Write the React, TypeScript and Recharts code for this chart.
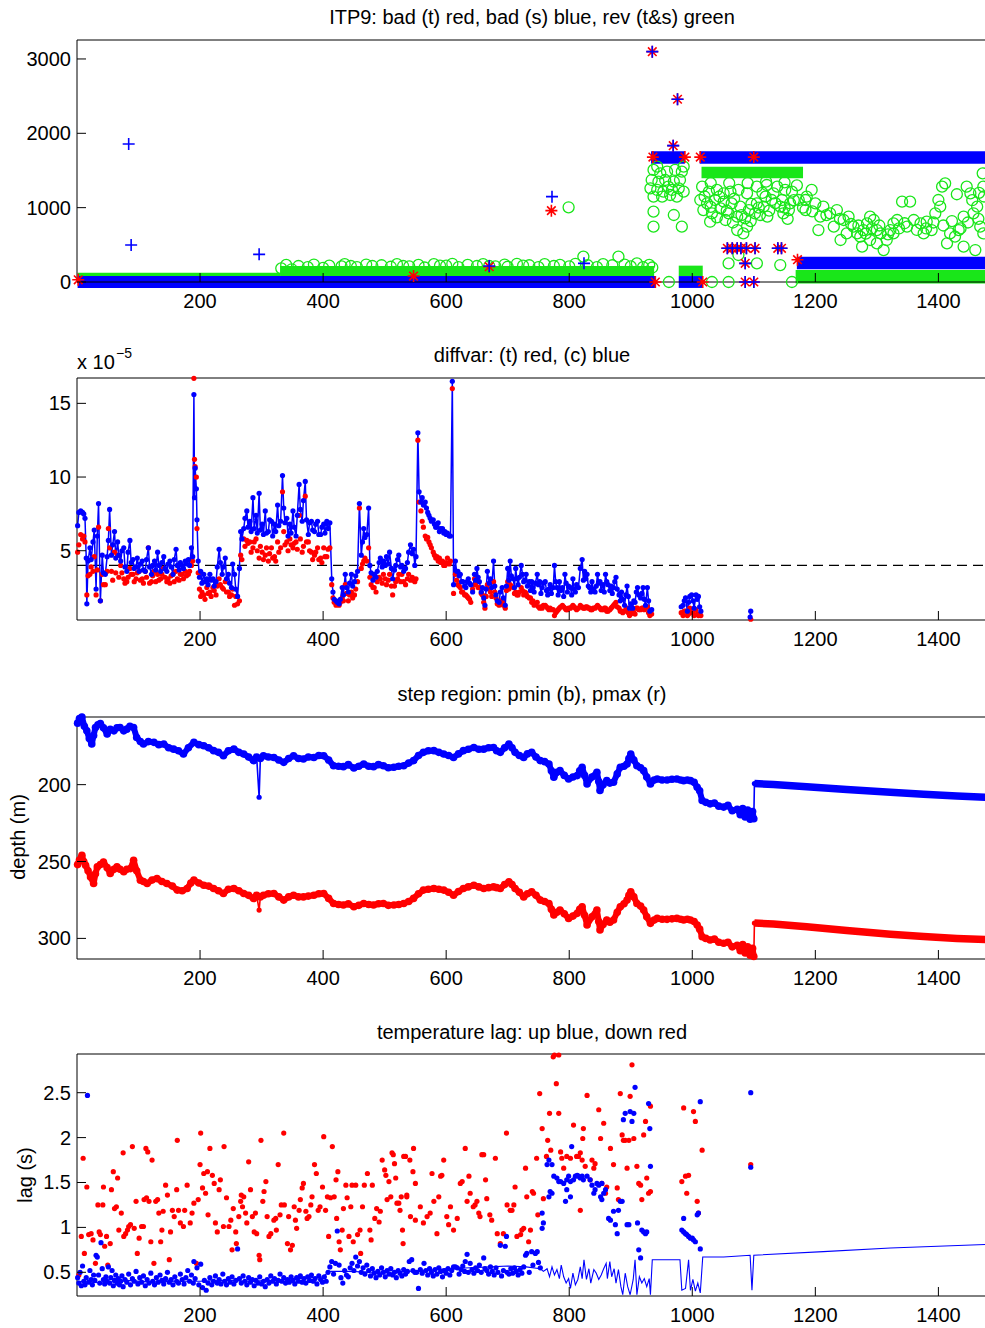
import React from 'react';
import { ComposedChart, Scatter, Line, XAxis, YAxis, ReferenceArea, ReferenceLine } from 'recharts';

type Pt = [number, number | null];

const FONT = '"Liberation Sans", Arial, Helvetica, sans-serif';
const BLUE = '#0000ff';
const RED = '#ff0000';
const GREEN = '#19e619';
const X_DOMAIN: [number, number] = [0, 1479];
const profileTicks = [200, 400, 600, 800, 1000, 1200, 1400];

// ---------- panel 1: bad / reversed flags (y = point index) ----------
// dense rows of markers, read as [x1, x2, y1, y2]
const badSBands = [
  [1, 940, -80, 80],
  [978, 1017, -80, 80],
  [933, 988, 1590, 1760],
  [1012, 1479, 1590, 1760],
  [1170, 1479, 170, 340],
];
const revBands = [
  [1, 330, 80, 125],
  [330, 938, 80, 215],
  [978, 1017, 80, 220],
  [1015, 1180, 1395, 1550],
  [1168, 1479, -20, 160],
];
const badSPts: Pt[] = [
  [84, 1857], [88, 498], [296, 372], [670, 215], [772, 1148], [824, 251], [935, 3098], [976, 2458],
  [969, 1834], [1057, 453], [1065, 453], [1073, 453], [1079, 453], [1088, 453], [1102, 453],
  [1139, 453], [1145, 453], [1086, 251], [1086, 0], [1100, 0],
];
const badTPts: Pt[] = [
  [2, 30], [547, 80], [670, 206], [771, 960], [935, 3098], [976, 2458], [969, 1834], [936, 1680],
  [988, 1680], [1013, 1680], [1100, 1680], [1057, 453], [1065, 453], [1073, 453], [1079, 453],
  [1088, 453], [1102, 453], [1139, 453], [1145, 453], [1086, 251], [1086, 0], [1100, 0], [940, 0],
  [1017, 0], [1171, 300],
];
const revPts: Pt[] = [
  [332, 184], [349, 171], [375, 200], [400, 190], [430, 210], [455, 200], [480, 215], [510, 205],
  [540, 210], [565, 195], [590, 220], [620, 200], [650, 215], [680, 210], [700, 205], [725, 220],
  [750, 200], [775, 215], [799, 1005], [800, 210], [823, 341], [845, 200], [870, 225], [880, 341],
  [900, 210], [920, 200], [935, 195],
  [340, 230], [360, 215], [385, 235], [410, 220], [435, 240], [445, 215], [470, 235], [495, 225],
  [520, 240], [530, 215], [555, 230], [580, 240], [600, 220], [610, 245], [635, 230], [660, 240],
  [670, 215], [695, 235], [715, 245], [735, 225], [760, 240], [785, 230], [810, 245], [830, 225],
  [855, 240], [890, 235], [910, 250], [930, 230],
  [937, 1507], [948, 1462], [959, 1484], [972, 1507], [983, 1484], [934, 1372], [945, 1350], [956, 1372],
  [970, 1350], [980, 1372], [932, 1260], [943, 1238], [953, 1215], [967, 1238], [978, 1260], [937, 1148],
  [951, 1148], [964, 1170], [975, 1148], [986, 1215], [937, 946], [937, 744], [970, 901], [983, 744],
  [961, 1282], [943, 1552], [986, 1552],
  [1016, 1282], [1027, 1215], [1040, 1238], [1051, 1193], [1062, 1215], [1075, 1238], [1089, 1193],
  [1105, 1282], [1121, 1305], [1138, 1282], [1151, 1238], [1162, 1215], [1013, 1103], [1024, 1058],
  [1037, 1103], [1051, 1081], [1064, 1058], [1078, 1013], [1092, 968], [1105, 1058], [1119, 1148],
  [1132, 1193], [1146, 1103], [1159, 1058], [1018, 968], [1032, 924], [1046, 991], [1059, 924],
  [1073, 879], [1086, 856], [1102, 924], [1116, 1013], [1129, 1103], [1143, 1013], [1157, 968],
  [1029, 811], [1054, 834], [1073, 699], [1083, 654], [1089, 744], [1110, 901], [1148, 924],
  [1184, 1103], [1194, 1238], [1059, 251], [1075, 363], [1105, 251], [1143, 228], [962, 0], [1032, 0],
  [1059, 0], [1162, 0],
  [1020, 1150], [1030, 1010], [1044, 1150], [1056, 960], [1068, 1120], [1080, 900], [1096, 1050],
  [1108, 1000], [1114, 1200], [1125, 960], [1135, 1060], [1150, 1000], [1165, 1100], [1170, 1300],
  [1040, 870], [1066, 800], [1095, 820], [1122, 880], [1155, 850], [1030, 1330], [1060, 1330],
  [1090, 1330], [1120, 1350], [1150, 1340],
  [1173, 1103], [1186, 1148], [1200, 1058], [1213, 1013], [1224, 924], [1235, 968], [1246, 834],
  [1254, 879], [1262, 744], [1268, 654], [1273, 610], [1278, 699], [1284, 789], [1289, 879], [1295, 834],
  [1300, 699], [1306, 654], [1311, 430], [1316, 565], [1322, 699], [1327, 789], [1333, 834], [1341, 1081],
  [1354, 1081], [1349, 744], [1360, 834], [1371, 789], [1381, 811], [1389, 699], [1395, 924], [1400, 1103],
  [1406, 1282], [1411, 1327], [1403, 1013], [1419, 654], [1427, 610], [1433, 699], [1441, 879],
  [1446, 1282], [1452, 1193], [1457, 924], [1463, 1013], [1468, 744], [1473, 654], [1472, 1462],
  [1473, 1282], [1184, 968], [1208, 879], [1230, 744], [1251, 654], [1276, 475], [1300, 520], [1327, 654],
  [1376, 654], [1414, 520], [1441, 475], [1460, 430], [1205, 699], [1241, 565], [1289, 565],
  [1180, 1000], [1195, 950], [1218, 900], [1240, 850], [1258, 780], [1270, 760], [1282, 650], [1292, 720],
  [1304, 760], [1318, 640], [1336, 720], [1345, 790], [1365, 700], [1380, 720], [1392, 800], [1408, 760],
  [1422, 820], [1436, 720], [1448, 800], [1465, 850], [1474, 1150], [1466, 1200], [1430, 1180], [1455, 1100],
];

// ---------- panel 2: diffvar, in units of 1e-5 ----------
const diffvarC: Pt[] = [
  [1, 6.7], [3, 7.6], [6, 7.7], [9, 7.6], [11, 7.5], [13, 7.2], [15, 4.5], [16, 1.4], [18, 4.3], [21, 5.2],
  [23, 4.4], [26, 5.6], [28, 6.4], [31, 2.4], [33, 6.0], [35, 8.2], [38, 1.6], [41, 4.7], [43, 3.5], [46, 3.4],
  [49, 4.6], [51, 5.7], [53, 7.8], [56, 4.7], [58, 5.4], [61, 6.3], [63, 4.5], [66, 5.6], [68, 4.7], [71, 4.3],
  [73, 5.0], [76, 5.2], [78, 3.9], [81, 3.6], [83, 4.9], [86, 5.7], [88, 4.2], [91, 4.4], [93, 3.8], [96, 3.9],
  [98, 4.5], [101, 3.6], [103, 4.1], [106, 4.3], [108, 3.7], [111, 3.6], [113, 4.4], [116, 5.2], [118, 3.9],
  [121, 3.4], [123, 4.0], [126, 4.3], [128, 3.7], [131, 4.9], [133, 4.0], [136, 3.6], [138, 4.2], [141, 4.6],
  [143, 3.8], [146, 3.6], [148, 4.1], [151, 4.3], [153, 3.9], [156, 3.4], [158, 4.4], [161, 5.1], [163, 4.0],
  [166, 3.7], [168, 4.2], [171, 4.0], [173, 3.8], [176, 4.3], [178, 4.1], [181, 4.4], [183, 4.0], [186, 5.2],
  [188, 4.6], [190, 15.6], [191, 8.6], [192, 10.6], [194, 9.2], [195, 7.1], [197, 4.3], [199, 3.2], [201, 3.6],
  [203, 2.8], [206, 3.4], [208, 2.9], [211, 3.1], [213, 2.7], [216, 3.4], [218, 3.0], [221, 3.1], [223, 2.6],
  [226, 2.9], [228, 3.9], [231, 5.1], [233, 4.2], [236, 3.4], [238, 3.9], [241, 4.5], [243, 3.1], [246, 3.4],
  [248, 2.8], [251, 2.5], [253, 4.1], [256, 3.4], [258, 2.4], [261, 1.9], [264, 3.8], [266, 6.3], [268, 5.8],
  [271, 6.5], [273, 7.2], [276, 7.7], [278, 6.6], [281, 7.0], [283, 6.3], [286, 8.6], [288, 6.5], [291, 7.4],
  [293, 6.2], [296, 8.9], [298, 6.4], [301, 6.8], [303, 6.1], [306, 7.7], [308, 6.2], [311, 6.3], [313, 7.1],
  [316, 7.0], [318, 6.0], [321, 6.8], [323, 6.3], [326, 8.1], [328, 6.7], [331, 7.0], [334, 10.1], [336, 7.9],
  [338, 6.9], [341, 7.2], [343, 6.0], [346, 6.8], [348, 6.2], [351, 7.7], [353, 6.6], [356, 6.0], [358, 7.4],
  [361, 9.5], [363, 7.8], [366, 7.0], [368, 8.4], [371, 9.7], [373, 7.1], [376, 6.1], [378, 6.9], [381, 7.0],
  [383, 6.4], [386, 6.3], [388, 6.8], [391, 7.0], [393, 6.1], [396, 6.1], [398, 6.6], [401, 6.8], [403, 6.2],
  [406, 7.0], [408, 6.5], [411, 6.9], [414, 3.1], [416, 2.2], [418, 1.7], [421, 1.6], [423, 1.5], [426, 1.4],
  [428, 1.7], [431, 2.5], [433, 2.0], [436, 3.4], [438, 2.5], [441, 2.2], [443, 2.8], [446, 3.4], [448, 2.6],
  [451, 2.9], [453, 3.3], [456, 3.6], [459, 8.2], [462, 4.7], [464, 5.6], [466, 6.5], [468, 5.9], [471, 6.1],
  [474, 7.9], [476, 4.0], [478, 3.5], [481, 3.0], [483, 3.4], [486, 3.2], [488, 3.6], [491, 4.2], [493, 4.5],
  [496, 3.9], [498, 4.3], [501, 4.0], [503, 4.6], [506, 4.1], [508, 4.9], [511, 3.8], [513, 3.1], [516, 3.7],
  [518, 4.0], [521, 4.4], [523, 4.7], [526, 3.9], [528, 4.0], [531, 3.6], [534, 3.8], [537, 4.2], [539, 4.9],
  [542, 5.4], [545, 4.8], [547, 5.1], [549, 4.0], [551, 4.6], [554, 13.0], [556, 9.0], [559, 8.3], [561, 8.6],
  [563, 8.1], [566, 8.3], [568, 7.9], [570, 7.6], [572, 7.4], [574, 7.2], [576, 7.0], [579, 7.1], [581, 6.8],
  [583, 6.6], [585, 6.6], [587, 6.9], [589, 6.3], [591, 6.5], [594, 6.5], [596, 6.2], [598, 6.3], [600, 6.1],
  [602, 6.2], [605, 6.0], [607, 6.0], [610, 16.5], [612, 2.7], [615, 4.3], [617, 3.6], [619, 3.6], [621, 3.3],
  [623, 3.4], [625, 2.9], [627, 2.9], [630, 2.6], [632, 2.5], [634, 2.9], [636, 3.1], [638, 2.8], [640, 2.7],
  [643, 2.2], [646, 3.4], [648, 3.0], [650, 3.8], [652, 3.2], [654, 2.9], [657, 2.2], [659, 2.5], [661, 1.8],
  [663, 1.3], [665, 2.4], [667, 3.6], [670, 2.8], [672, 3.1], [674, 2.5], [677, 4.3], [679, 2.6], [681, 2.0],
  [683, 1.6], [686, 1.5], [688, 2.2], [691, 2.5], [693, 1.8], [696, 1.3], [698, 2.6], [700, 3.8], [702, 3.0],
  [704, 4.3], [706, 3.3], [709, 3.1], [711, 2.5], [713, 3.8], [715, 3.1], [717, 2.7], [719, 3.2], [722, 4.0],
  [724, 3.4], [726, 2.9], [728, 3.0], [730, 3.4], [732, 2.6], [735, 2.9], [737, 2.3], [739, 2.9], [741, 2.5],
  [743, 2.2], [745, 2.8], [748, 3.4], [750, 2.7], [752, 2.9], [754, 2.1], [756, 2.5], [758, 2.8], [761, 2.9],
  [763, 2.3], [765, 2.0], [767, 2.4], [769, 2.7], [771, 2.1], [774, 2.5], [776, 4.0], [778, 2.9], [780, 2.5],
  [782, 2.0], [784, 2.9], [786, 2.3], [789, 2.5], [791, 1.9], [793, 3.4], [795, 2.8], [797, 2.2], [799, 2.6],
  [802, 2.5], [804, 2.0], [806, 3.1], [808, 2.4], [810, 2.2], [812, 2.7], [815, 2.5], [818, 3.8], [821, 4.4],
  [823, 3.0], [825, 3.6], [827, 3.1], [829, 3.4], [831, 2.6], [833, 2.5], [835, 2.2], [837, 2.9], [839, 2.4],
  [842, 2.2], [844, 2.6], [846, 3.4], [848, 2.8], [850, 2.9], [852, 2.3], [855, 2.7], [857, 2.2], [859, 3.4],
  [861, 2.9], [863, 2.7], [866, 2.3], [868, 2.6], [870, 2.1], [872, 2.5], [874, 2.9], [876, 3.2], [878, 2.4],
  [881, 2.0], [883, 1.6], [885, 2.2], [887, 1.7], [890, 1.3], [892, 2.0], [894, 2.6], [896, 1.9], [898, 1.1],
  [900, 1.4], [903, 1.1], [905, 1.6], [907, 1.5], [909, 2.2], [911, 2.5], [913, 2.0], [916, 1.8], [918, 2.1],
  [920, 2.5], [922, 1.7], [924, 1.3], [927, 2.5], [929, 1.6], [931, 0.9], [934, 1.0], [958, null],
  [982, 1.2], [985, 1.3], [987, 1.6], [989, 1.8], [992, 0.9], [994, 1.5], [996, 1.9], [999, 2.0], [1001, 1.6],
  [1003, 1.1], [1006, 2.0], [1008, 1.7], [1010, 1.9], [1012, 1.2], [1014, 0.9], [1050, null],
  [1094, 0.5], [1095, 0.9],
];
const diffvarT: Pt[] = [
  [1, 4.9], [3, 5.4], [6, 6.1], [9, 5.8], [11, 6.0], [13, 5.6], [16, 2.0], [18, 3.3], [21, 3.4], [23, 3.9],
  [26, 3.6], [28, 4.6], [31, 2.0], [33, 3.7], [35, 6.6], [38, 1.6], [41, 3.4], [43, 2.7], [46, 2.7], [49, 3.6],
  [51, 6.5], [53, 5.2], [56, 3.6], [58, 3.0], [61, 4.9], [63, 3.5], [66, 4.7], [68, 3.2], [71, 4.0], [73, 3.5],
  [76, 3.1], [78, 2.8], [81, 2.9], [83, 3.2], [86, 3.8], [88, 3.4], [91, 3.4], [93, 2.9], [96, 3.1], [98, 3.5],
  [101, 3.6], [103, 3.0], [106, 3.1], [108, 2.8], [111, 3.6], [113, 3.2], [116, 5.2], [118, 2.8], [121, 2.9],
  [123, 3.3], [126, 3.6], [128, 2.9], [131, 3.4], [133, 3.0], [136, 3.1], [138, 3.4], [141, 3.8], [143, 3.2],
  [146, 2.9], [148, 3.1], [151, 2.8], [153, 3.3], [156, 3.4], [158, 2.9], [161, 3.6], [163, 3.1], [166, 3.0],
  [168, 3.4], [171, 3.4], [173, 3.1], [176, 3.6], [178, 3.3], [181, 3.4], [183, 3.6], [186, 4.0], [188, 4.3],
  [190, 16.7], [191, 11.2], [192, 10.7], [194, 10.0], [195, 6.5], [197, 3.5], [199, 2.4], [201, 1.9], [203, 2.2],
  [206, 2.0], [208, 1.7], [211, 2.5], [213, 2.1], [216, 2.2], [218, 1.9], [221, 2.5], [223, 2.3], [226, 2.0],
  [228, 2.6], [231, 3.1], [233, 2.7], [236, 2.5], [238, 2.4], [241, 2.9], [243, 2.2], [246, 2.2], [248, 1.9],
  [251, 2.0], [253, 2.4], [256, 1.3], [258, 1.9], [261, 1.4], [264, 1.6], [266, 4.7], [268, 4.4], [271, 5.8],
  [273, 5.3], [276, 5.7], [278, 5.5], [281, 5.6], [283, 4.9], [286, 5.2], [288, 5.6], [291, 5.8], [293, 5.0],
  [296, 4.5], [298, 5.3], [301, 4.9], [303, 4.4], [306, 4.7], [308, 5.2], [311, 4.3], [313, 4.8], [316, 5.2],
  [318, 4.5], [321, 4.6], [323, 4.3], [326, 5.6], [328, 4.9], [331, 5.2], [334, 9.0], [336, 6.3], [338, 5.4],
  [341, 5.6], [343, 5.0], [346, 5.8], [348, 5.4], [351, 5.2], [353, 5.5], [356, 5.6], [358, 5.1], [361, 7.4],
  [363, 5.8], [366, 4.9], [368, 5.3], [371, 8.7], [373, 5.6], [376, 5.6], [378, 5.0], [381, 4.9], [383, 4.4],
  [386, 4.7], [388, 4.9], [391, 5.2], [393, 4.4], [396, 4.5], [398, 4.2], [401, 5.2], [403, 4.6], [406, 4.6],
  [408, 5.1], [411, 5.2], [414, 2.7], [416, 1.8], [418, 1.5], [421, 1.3], [423, 1.4], [426, 1.3], [428, 1.5],
  [431, 1.8], [433, 1.6], [436, 2.7], [438, 2.1], [441, 1.6], [443, 2.0], [446, 2.2], [448, 1.8], [451, 2.0],
  [453, 2.4], [456, 2.9], [459, 7.9], [462, 3.8], [464, 4.1], [466, 4.3], [468, 4.5], [471, 4.3], [474, 5.2],
  [476, 3.2], [478, 2.7], [481, 2.5], [483, 2.5], [486, 2.2], [488, 2.9], [491, 3.2], [493, 3.1], [496, 2.8],
  [498, 3.4], [501, 3.1], [503, 2.7], [506, 3.0], [508, 3.4], [511, 2.6], [513, 2.0], [516, 2.6], [518, 2.9],
  [521, 3.1], [523, 3.4], [526, 2.9], [528, 3.4], [531, 2.9], [534, 2.7], [537, 3.1], [539, 3.4], [542, 3.0],
  [545, 3.2], [547, 3.0], [549, 2.9], [551, 3.1], [554, 12.5], [556, 8.3], [559, 7.7], [561, 7.0], [563, 6.6],
  [566, 6.0], [568, 5.8], [570, 5.9], [572, 5.6], [574, 5.4], [576, 5.2], [579, 4.9], [581, 4.7], [583, 4.5],
  [585, 4.6], [587, 4.3], [589, 4.5], [591, 4.2], [594, 4.3], [596, 4.0], [598, 4.0], [600, 4.2], [602, 4.5],
  [605, 4.1], [607, 4.3], [610, 16.0], [612, 2.1], [615, 3.4], [617, 3.0], [619, 2.7], [621, 2.6], [623, 2.5],
  [625, 2.2], [627, 2.2], [630, 2.0], [632, 2.0], [634, 1.9], [636, 1.8], [638, 1.7], [640, 1.5], [643, 2.4],
  [646, 3.1], [648, 2.7], [650, 2.9], [652, 2.5], [654, 2.5], [657, 2.1], [659, 2.0], [661, 1.5], [663, 1.1],
  [665, 1.9], [667, 2.7], [670, 2.4], [672, 2.2], [674, 1.9], [677, 2.9], [679, 2.2], [681, 1.8], [683, 1.4],
  [686, 1.3], [688, 1.6], [691, 1.5], [693, 1.3], [696, 1.1], [698, 2.3], [700, 2.9], [702, 2.4], [704, 2.7],
  [706, 2.6], [709, 2.5], [711, 2.1], [713, 2.2], [715, 2.0], [717, 2.0], [719, 2.2], [722, 2.5], [724, 2.3],
  [726, 2.0], [728, 2.2], [730, 2.1], [732, 1.9], [735, 1.8], [737, 1.8], [739, 1.5], [741, 1.6], [743, 1.3],
  [745, 1.4], [748, 1.5], [750, 1.2], [752, 1.1], [754, 1.2], [756, 1.1], [758, 1.3], [761, 1.3], [763, 1.2],
  [765, 1.1], [767, 1.0], [769, 1.1], [771, 1.0], [774, 1.0], [776, 0.6], [778, 0.8], [780, 0.9], [782, 1.0],
  [784, 1.1], [786, 1.2], [789, 1.3], [791, 1.2], [793, 1.1], [795, 1.0], [797, 1.0], [799, 1.1], [802, 1.1],
  [804, 1.2], [806, 1.3], [808, 1.2], [810, 1.1], [812, 1.0], [815, 1.1], [818, 1.3], [821, 1.2], [823, 1.1],
  [825, 1.1], [827, 1.2], [829, 1.2], [831, 1.1], [833, 1.1], [835, 1.0], [837, 1.0], [839, 1.1], [842, 1.1],
  [844, 1.2], [846, 1.3], [848, 1.2], [850, 1.1], [852, 1.0], [855, 1.0], [857, 1.1], [859, 1.1], [861, 0.9],
  [863, 0.9], [866, 1.0], [868, 1.1], [870, 1.2], [872, 1.3], [874, 1.4], [876, 1.5], [878, 1.2], [881, 1.1],
  [883, 0.9], [885, 0.9], [887, 0.8], [890, 0.9], [892, 1.0], [894, 1.1], [896, 0.8], [898, 0.6], [900, 0.7],
  [903, 0.9], [905, 0.8], [907, 0.7], [909, 1.1], [911, 1.1], [913, 1.0], [916, 1.0], [918, 1.1], [920, 1.1],
  [922, 1.0], [924, 1.1], [927, 1.2], [929, 0.8], [931, 0.6], [934, 0.7], [982, 0.8], [985, 0.6], [987, 0.9],
  [989, 0.9], [992, 0.6], [994, 0.7], [996, 1.1], [999, 0.9], [1001, 0.8], [1003, 0.6], [1006, 1.0], [1008, 0.7],
  [1010, 0.6], [1012, 0.7], [1014, 0.6], [1095, 0.35],
];

// ---------- panel 3: step region depth (m) ----------
const pminPts: Pt[] = [
  [1, 160], [4, 157], [8, 156], [12, 162], [16, 165], [20, 170], [24, 173.6], [27, 168], [30, 162.8], [34, 161],
  [38, 160.2], [43, 163], [49, 167.1], [54, 164], [60, 165], [65, 163], [70, 162.8], [76, 165], [81, 163.9],
  [86, 162], [92, 162.8], [97, 169.3], [103, 172], [108, 173.6], [116, 172], [125, 172.5], [133, 174],
  [141, 173.6], [149, 176], [157, 176.9], [165, 178], [173, 180.1], [181, 176], [190, 172.5], [198, 174],
  [206, 174.7], [214, 176], [222, 177.9], [230, 179], [238, 181.2], [246, 178], [255, 176.9], [263, 179],
  [271, 180.1], [279, 182], [287, 184.4], [292, 182], [298, 183], [303, 181.2], [311, 182],
  [320, 182.3], [328, 184], [336, 185.5], [344, 183], [352, 181.2], [360, 183], [368, 183.3], [376, 182],
  [385, 182.3], [393, 181], [401, 181.2], [409, 184], [417, 187.7], [425, 188], [433, 188.3], [441, 187],
  [450, 189.2], [458, 188], [466, 186.6], [474, 188], [482, 188.3], [490, 187], [498, 187.7], [506, 189],
  [515, 188.7], [523, 188], [531, 187.7], [539, 186], [547, 184.4], [555, 181], [563, 179], [571, 178],
  [580, 177.9], [588, 179], [596, 180.1], [604, 181], [612, 182.3], [620, 180], [628, 177.9], [636, 177],
  [645, 175.8], [653, 177], [661, 176.9], [669, 176], [677, 175.8], [682, 178], [688, 179], [695, 176],
  [702, 173.6], [707, 176], [712, 179], [719, 181], [726, 182.3], [732, 180], [739, 179], [746, 182],
  [753, 184.4], [760, 185], [767, 186.6], [771, 191], [775, 195.2], [780, 192], [785, 190.9], [792, 194],
  [799, 196.3], [806, 195], [813, 194.1], [817, 191], [821, 188.7], [825, 194], [829, 199.5], [837, 195],
  [845, 192], [848, 198], [850, 203.8], [855, 200], [861, 197.4], [866, 199], [872, 198.4], [878, 193],
  [883, 188.7], [889, 188], [894, 186.6], [897, 183], [900, 180.1], [905, 184], [910, 187.7], [916, 189],
  [921, 190.9], [926, 195], [932, 199.5], [938, 197], [943, 196.3], [951, 197], [959, 197], [967, 196.5],
  [975, 196.3], [981, 197], [986, 197.4], [992, 197], [997, 197.4], [1003, 198.5], [1008, 201.7], [1012, 204],
  [1016, 210.3], [1022, 211.5], [1029, 212.5], [1036, 212], [1043, 214], [1051, 214.6], [1058, 213.5],
  [1065, 217], [1073, 216], [1078, 219.5], [1082, 215.5], [1086, 221], [1090, 216.5], [1094, 222.5],
  [1098, 217.5], [1100, 222.2],
];
const pminThin: Pt[] = [[292, 182], [296, 208.2], [298, 183], [299, null], [1100, 222.2], [1101, 199.3]];
const pminTail: Pt[] = [
  [1101, 199.3], [1132, 199.9], [1186, 201.4], [1251, 203.1], [1322, 205], [1376, 206.3], [1430, 207.4], [1479, 208.3],
];
const pmaxPts: Pt[] = [
  [1, 252], [4, 249], [8, 246], [11, 250], [14, 252.4], [18, 256], [22, 260], [27, 264.3], [30, 258],
  [33, 253.5], [38, 252], [43, 250.3], [49, 254], [54, 257.8], [60, 255], [65, 253.5], [70, 255], [76, 256.7],
  [81, 255], [87, 254.6], [92, 249.2], [97, 256], [103, 262.1], [108, 263], [114, 264.3], [122, 262],
  [130, 261.1], [138, 263], [146, 264.3], [155, 266], [163, 268.6], [171, 269], [179, 267.5], [185, 264],
  [190, 262.1], [198, 264], [206, 265.4], [214, 266], [222, 267.5], [230, 269], [238, 270.8], [246, 268],
  [255, 267.5], [263, 269], [271, 270.8], [279, 272], [287, 274], [292, 272], [298, 273],
  [303, 271.9], [311, 271], [320, 270.8], [328, 273], [336, 275.1], [344, 273], [352, 271.9], [360, 273],
  [368, 273], [376, 272.5], [385, 271.9], [393, 271], [401, 270.8], [409, 274], [417, 277.3], [425, 278],
  [433, 278.3], [441, 277.5], [450, 279.4], [458, 278.5], [466, 277.3], [474, 278], [482, 278.3],
  [490, 277.5], [498, 277.3], [506, 278.5], [515, 278.3], [523, 278], [531, 277.3], [539, 276], [547, 274],
  [555, 271], [563, 268.6], [571, 268], [580, 267.5], [588, 268], [596, 268.6], [604, 270], [612, 271.9],
  [620, 269.5], [628, 267.5], [636, 266.5], [645, 265.4], [653, 266.5], [661, 267.5], [669, 267],
  [677, 266.5], [682, 267], [688, 267.5], [695, 265], [702, 263.2], [707, 265], [712, 267.5], [719, 270],
  [726, 273], [732, 271], [739, 269.7], [746, 272], [753, 275.1], [760, 276], [767, 277.3], [771, 281],
  [775, 284.8], [780, 283], [785, 281.6], [792, 284], [799, 287], [806, 285.5], [813, 283.7], [817, 281],
  [821, 279.4], [825, 285], [829, 291.3], [837, 286], [845, 281.6], [848, 289], [850, 294.5], [855, 291],
  [861, 288], [866, 289.5], [872, 288], [878, 283], [883, 279.4], [889, 277.5], [894, 275.1], [897, 272],
  [900, 269.7], [905, 273], [910, 277.3], [916, 279], [921, 281.6], [926, 286], [932, 290.2], [938, 288],
  [943, 287], [951, 287.5], [959, 287.6], [967, 287.3], [975, 287], [981, 287.5], [986, 288], [992, 287.5],
  [997, 288], [1003, 289], [1008, 291.3], [1012, 294], [1016, 298.9], [1022, 300], [1029, 301], [1036, 300.5],
  [1043, 302.5], [1051, 303.2], [1058, 302.5], [1065, 305.5], [1073, 304.5], [1078, 308], [1082, 304],
  [1086, 309.5], [1090, 305.5], [1094, 311], [1098, 306.5], [1100, 311.8],
];
const pmaxThin: Pt[] = [[292, 272], [296, 281.6], [298, 273], [299, null], [1100, 311.8], [1101, 290]];
const pmaxTail: Pt[] = [
  [1101, 290], [1132, 290.6], [1186, 292.4], [1251, 294.8], [1322, 297.3], [1376, 298.8], [1430, 300], [1479, 300.8],
];

// ---------- panel 4: temperature lag (s) ----------
const lagDown: Pt[] = [
  [3, 0.47], [7, 0.9], [10, 1.77], [12, 0.71], [16, 1.45], [19, 0.92], [23, 0.93], [26, 0.86], [30, 0.6],
  [34, 1.25], [36, 0.95], [38, 0.92], [42, 1.25], [43, 1.45], [45, 0.79], [48, 0.9], [50, 0.58], [54, 0.82],
  [56, 1.42], [59, 1.62], [61, 1.21], [64, 1.23], [66, 1.55], [68, 0.97], [72, 1.16], [75, 1.83], [76, 0.9],
  [79, 0.93], [82, 0.97], [84, 1.01], [87, 1.03], [90, 1.9], [93, 0.99], [96, 1.29], [98, 0.71], [101, 0.88],
  [105, 1.01], [108, 1.01], [109, 1.31], [112, 1.88], [113, 1.33], [115, 1.84], [117, 1.29], [120, 0.84],
  [122, 1.75], [125, 0.6], [128, 1.29], [131, 1.31], [133, 1.16], [136, 0.84], [138, 0.97], [140, 1.18],
  [144, 1.47], [147, 1.36], [150, 0.64], [152, 0.95], [155, 1.19], [158, 1.12], [162, 1.42], [163, 1.97],
  [165, 1.19], [168, 1.05], [173, 1.01], [175, 1.19], [179, 1.47], [184, 1.05], [187, 1.16], [190, 1.27],
  [194, 0.6], [197, 1.31], [200, 1.7], [201, 2.05], [204, 1.44], [206, 1.6], [209, 1.38], [212, 1.62],
  [213, 1.14], [216, 1.88], [220, 1.58], [223, 1.49], [225, 1.05], [228, 0.95], [231, 1.42], [233, 1.53],
  [238, 1.01], [239, 1.9], [243, 1.33], [247, 1.01], [250, 1.08], [252, 0.75], [254, 1.21], [258, 0.95],
  [259, 0.82], [263, 1.12], [266, 1.29], [267, 1.36], [269, 1.23], [271, 1.34], [274, 1.16], [276, 1.05],
  [279, 1.73], [282, 1.42], [285, 1.12], [288, 0.95], [290, 1.16], [292, 0.93], [296, 0.69], [297, 0.64],
  [299, 1.97], [302, 1.29], [304, 1.4], [307, 1.51], [309, 1.12], [312, 0.9], [315, 0.93], [320, 1.08],
  [323, 1.1], [324, 0.97], [327, 1.7], [330, 1.14], [332, 1.25], [336, 2.05], [337, 1.25], [342, 0.82],
  [344, 1.12], [347, 0.75], [350, 0.8], [353, 1.23], [355, 1.08], [357, 0.99], [361, 1.19], [363, 1.31],
  [366, 1.44], [368, 1.49], [372, 1.18], [374, 1.1], [377, 1.12], [380, 1.25], [382, 1.34], [386, 1.7],
  [389, 1.6], [392, 1.19], [395, 1.23], [399, 1.45], [401, 2.01], [404, 1.19], [407, 1.34], [409, 0.9],
  [412, 1.33], [415, 1.9], [418, 1.34], [421, 1.53], [422, 1.1], [424, 1.62], [426, 0.84], [428, 0.75],
  [431, 0.97], [433, 1.21], [437, 1.47], [439, 1.33], [442, 0.9], [445, 1.23], [447, 1.47], [449, 0.84],
  [453, 1.47], [456, 0.92], [460, 0.97], [461, 0.71], [464, 1.23], [467, 1.47], [472, 1.6], [476, 0.97],
  [478, 0.86], [480, 1.47], [484, 1.1], [487, 1.21], [491, 1.06], [493, 1.18], [496, 1.75], [500, 1.64],
  [502, 1.58], [504, 1.31], [507, 1.51], [510, 1.34], [512, 1.83], [514, 1.81], [516, 1.71], [518, 1.55],
  [520, 1.27], [523, 1.27], [525, 1.19], [529, 0.97], [530, 0.82], [534, 1.79], [536, 1.34],
  [527, 1.34], [531, 1.79], [536, 1.36], [541, 1.75], [542, 1.12], [546, 1.62], [547, 1.88], [550, 1.49],
  [550, 1.08], [558, 1.23], [563, 1.05], [569, 1.12], [574, 1.16], [577, 1.6], [580, 1.29], [585, 0.93],
  [588, 1.34], [591, 1.57], [593, 1.58], [596, 1.75], [601, 1.12], [604, 1.03], [607, 1.23], [612, 0.97],
  [618, 1.1], [623, 1.49], [626, 1.51], [631, 1.88], [634, 1.29], [637, 1.57], [639, 1.38], [644, 1.23],
  [647, 1.25], [650, 1.29], [653, 1.16], [655, 1.12], [658, 1.81], [661, 1.81], [664, 1.53], [666, 1.32],
  [671, 1.14], [674, 1.08], [680, 1.77], [683, 0.93], [688, 0.82], [693, 0.93], [698, 2.05], [699, 1.25],
  [704, 1.19], [707, 1.19], [710, 1.25], [712, 1.45], [715, 0.9], [721, 0.92], [723, 0.97], [726, 0.99],
  [729, 1.66], [731, 1.34], [734, 0.84], [737, 0.97], [740, 1.4], [742, 1.38], [747, 1.77], [749, 1.14],
  [752, 2.49], [756, 2.1], [758, 1.32], [763, 1.79], [765, 1.97], [768, 2.27], [770, 1.86], [774, 2.9],
  [776, 2.92], [783, 2.92], [779, 2.6], [783, 2.27], [786, 1.84], [788, 1.77], [791, 1.66], [796, 1.79],
  [802, 1.77], [807, 2.14], [812, 1.79], [815, 1.79], [818, 1.83], [821, 1.75], [818, 1.19], [823, 2.1],
  [822, 1.99], [826, 1.68], [829, 2.47], [834, 1.53], [837, 1.75], [840, 1.66], [842, 1.71], [848, 2.31],
  [851, 1.99], [853, 1.49], [856, 2.16], [859, 1.38], [861, 1.45], [867, 1.88], [872, 1.7], [878, 1.44],
  [880, 1.31], [883, 2.49], [886, 2.03], [888, 1.97], [891, 1.97], [894, 1.66], [897, 1.97], [899, 2.46],
  [902, 2.81], [905, 1.99], [910, 1.68], [913, 1.49], [916, 1.47], [918, 1.31], [921, 2.03], [924, 2.18],
  [926, 1.55], [929, 1.38], [932, 2.35], [932, 1.4], [983, 1.51], [986, 2.33], [989, 1.57], [991, 1.38],
  [994, 1.58], [1002, 2.29], [1005, 2.18], [1008, 1.29], [1010, 1.16], [1016, 1.86], [1095, 1.7],
];
const lagUp: Pt[] = [
  [1, 0.44], [3, 0.38], [5, 0.5], [7, 0.35], [9, 0.57], [11, 0.4], [13, 0.36], [15, 0.44], [17, 2.47],
  [19, 0.39], [21, 0.52], [23, 0.42], [25, 0.36], [27, 0.47], [29, 0.41], [31, 0.69], [33, 0.67], [35, 0.47],
  [37, 0.38], [39, 0.83], [41, 0.54], [43, 0.42], [45, 0.37], [47, 0.45], [49, 0.4], [51, 0.56], [53, 0.38],
  [55, 0.44], [57, 0.52], [59, 0.35], [61, 0.41], [63, 0.47], [65, 0.38], [67, 0.43], [69, 0.36], [71, 0.4],
  [73, 0.46], [75, 0.34], [78, 0.42], [81, 0.39], [84, 0.48], [87, 0.36], [90, 0.43], [93, 0.4], [96, 0.51],
  [99, 0.37], [102, 0.44], [105, 0.39], [108, 0.46], [111, 0.35], [114, 0.42], [117, 0.38], [120, 0.49],
  [123, 0.4], [126, 0.36], [129, 0.44], [132, 0.39], [135, 0.47], [138, 0.41], [141, 0.37], [144, 0.43],
  [147, 0.5], [150, 0.39], [153, 0.42], [156, 0.36], [159, 0.45], [162, 0.4], [165, 0.38], [168, 0.48],
  [171, 0.42], [174, 0.37], [177, 0.44], [180, 0.52], [183, 0.4], [186, 0.47], [189, 0.38], [190, 0.62],
  [192, 0.43], [195, 0.55], [198, 0.36], [201, 0.59], [204, 0.33], [207, 0.41], [210, 0.3], [213, 0.38],
  [216, 0.44], [219, 0.36], [222, 0.4], [225, 0.46], [228, 0.38], [231, 0.42], [234, 0.37], [237, 0.48],
  [240, 0.4], [243, 0.36], [246, 0.43], [249, 0.39], [252, 0.45], [255, 0.37], [258, 0.41], [261, 0.76],
  [264, 0.43], [267, 0.38], [270, 0.46], [273, 0.4], [276, 0.36], [279, 0.44], [282, 0.39], [285, 0.42],
  [288, 0.35], [291, 0.41], [294, 0.38], [297, 0.45], [300, 0.37], [303, 0.4], [306, 0.34], [309, 0.42],
  [312, 0.38], [315, 0.46], [318, 0.4], [321, 0.43], [324, 0.37], [327, 0.41], [330, 0.48], [333, 0.4],
  [336, 0.44], [339, 0.38], [342, 0.42], [345, 0.39], [348, 0.45], [351, 0.41], [354, 0.37], [357, 0.44],
  [360, 0.4], [363, 0.46], [366, 0.39], [369, 0.43], [372, 0.38], [375, 0.45], [378, 0.41], [381, 0.47],
  [384, 0.4], [387, 0.43], [390, 0.37], [393, 0.46], [396, 0.42], [399, 0.39], [402, 0.45], [405, 0.4],
  [408, 0.5], [411, 0.56], [414, 0.62], [417, 0.48], [420, 0.6], [423, 0.96], [426, 0.58], [429, 0.44],
  [432, 0.38], [435, 0.52], [438, 0.47], [441, 0.45], [444, 0.55], [447, 0.6], [450, 0.52], [453, 0.67],
  [456, 0.57], [459, 0.62], [462, 0.5], [465, 0.55], [468, 0.48], [471, 0.58], [474, 0.52], [477, 0.46],
  [480, 0.54], [483, 0.49], [486, 0.44], [489, 0.51], [492, 0.47], [495, 0.55], [498, 0.5], [501, 0.45],
  [504, 0.52], [507, 0.48], [510, 0.54], [513, 0.47], [516, 0.5], [519, 0.44], [522, 0.52], [525, 0.49],
  [528, 0.46], [531, 0.53], [534, 0.48], [537, 0.51], [540, 0.62], [544, 0.64], [546, 0.52], [549, 0.5],
  [552, 0.5], [555, 0.32], [558, 0.53], [561, 0.49], [564, 0.6], [567, 0.52], [570, 0.47], [573, 0.54],
  [576, 0.5], [579, 0.46], [582, 0.53], [585, 0.48], [588, 0.55], [591, 0.51], [594, 0.45], [597, 0.52],
  [600, 0.49], [603, 0.54], [606, 0.47], [609, 0.52], [612, 0.56], [615, 0.56], [618, 0.55], [621, 0.48],
  [624, 0.53], [627, 0.57], [630, 0.51], [631, 0.62], [634, 0.7], [636, 0.5], [639, 0.6], [642, 0.53],
  [645, 0.49], [648, 0.55], [651, 0.52], [654, 0.58], [657, 0.5], [661, 0.66], [663, 0.54], [666, 0.52],
  [669, 0.48], [672, 0.56], [675, 0.51], [678, 0.47], [681, 0.55], [684, 0.5], [688, 0.8], [690, 0.46],
  [693, 0.52], [696, 0.79], [698, 0.9], [699, 0.5], [702, 0.48], [705, 0.54], [708, 0.49], [711, 0.55],
  [714, 0.51], [717, 0.47], [720, 0.53], [723, 0.49], [726, 0.56], [729, 0.69], [731, 0.71], [735, 0.5],
  [739, 0.73], [741, 0.58], [745, 0.71], [748, 0.73], [750, 0.61], [753, 0.55],
  [756, 0.99], [756, 1.16], [758, 1.05], [764, 1.7], [767, 1.75], [767, 1.34], [769, 1.4], [772, 1.7],
  [772, 1.38], [775, 1.57], [780, 1.55], [783, 1.51], [786, 1.51], [791, 1.49], [794, 1.29], [796, 1.53],
  [796, 1.42], [799, 1.57], [802, 1.51], [802, 1.34], [804, 1.9], [807, 1.53], [810, 1.57], [813, 1.58],
  [815, 1.57], [818, 1.55], [821, 1.57], [823, 1.53], [829, 1.57], [834, 1.53], [837, 1.47], [840, 1.38],
  [842, 1.42], [845, 1.49], [848, 1.47], [851, 1.34], [853, 1.49], [853, 1.31], [856, 1.38], [859, 1.42],
  [864, 1.1], [867, 1.08], [872, 1.18], [875, 1.03], [878, 0.93], [880, 1.19], [883, 1.29], [886, 1.29],
  [888, 2.2], [891, 2.27], [894, 1.03], [897, 1.03], [899, 2.29], [902, 2.18], [905, 2.27], [907, 2.56],
  [911, 1.05], [913, 0.75], [916, 0.66], [918, 0.97], [921, 0.95], [924, 0.93], [926, 0.95], [929, 2.38],
  [931, 2.1], [932, 1.68], [983, 0.97], [986, 1.1], [986, 0.95], [989, 0.93], [991, 0.92], [994, 0.9],
  [997, 0.88], [1000, 0.88], [1002, 0.86], [1005, 0.84], [1008, 1.14], [1010, 1.16], [1013, 0.76],
  [1013, 2.4], [1095, 2.5], [1095, 1.67],
];
const lagUpLine: Pt[] = [
  [1, 0.4], [40, 0.38], [80, 0.41], [120, 0.39], [160, 0.4], [200, 0.4], [240, 0.41], [280, 0.4], [320, 0.41],
  [360, 0.43], [400, 0.45], [410, 0.51], [440, 0.51], [480, 0.5], [520, 0.5], [560, 0.52], [600, 0.54],
  [640, 0.55], [672, 0.56], [700, 0.57], [730, 0.56], [753, 0.54], [758, 0.51], [764, 0.54], [768, 0.45],
  [772, 0.56], [776, 0.47], [780, 0.53], [784, 0.43], [787, 0.58], [791, 0.45], [795, 0.38], [799, 0.43],
  [802, 0.32], [806, 0.49], [810, 0.36], [814, 0.42], [818, 0.56], [821, 0.43], [824, 0.64], [828, 0.42],
  [832, 0.54], [835, 0.38], [840, 0.53], [844, 0.49], [848, 0.42], [852, 0.47], [856, 0.54], [860, 0.6],
  [862, 0.43], [866, 0.62], [869, 0.45], [873, 0.54], [876, 0.38], [880, 0.53], [884, 0.34], [887, 0.25],
  [891, 0.49], [895, 0.34], [899, 0.25], [904, 0.42], [907, 0.64], [910, 0.25], [914, 0.45], [918, 0.38],
  [922, 0.43], [926, 0.34], [930, 0.43], [932, 0.25], [935, 0.64], [953, 0.64], [980, 0.64], [983, 0.3],
  [989, 0.32], [994, 0.64], [997, 0.3], [1001, 0.42], [1005, 0.29], [1009, 0.38], [1013, 0.27], [1017, 0.67],
  [1051, 0.67], [1094, 0.69], [1097, 0.3], [1100, 0.69], [1213, 0.73], [1322, 0.77], [1476, 0.81],
];

const toXY = (pts: Pt[]) => pts.map(([x, y]) => ({ x, y }));

const txt = { fontSize: 20, fontFamily: FONT, fill: '#000' };

function BottomTick(p: any) {
  return (
    <g>
      <line x1={p.x} y1={p.y} x2={p.x} y2={p.y - 9} stroke="#000" />
      <text x={p.x} y={p.y + 19} textAnchor="middle" dominantBaseline="central" {...txt}>{p.payload.value}</text>
    </g>
  );
}
function TopTick(p: any) {
  return <line x1={p.x} y1={p.y} x2={p.x} y2={p.y + 9} stroke="#000" />;
}
function LeftTick(p: any) {
  return (
    <g>
      <line x1={p.x} y1={p.y} x2={p.x + 9} y2={p.y} stroke="#000" />
      <text x={p.x - 6} y={p.y} textAnchor="end" dominantBaseline="central" {...txt}>{p.payload.value}</text>
    </g>
  );
}
function RightTick(p: any) {
  return <line x1={p.x} y1={p.y} x2={p.x - 9} y2={p.y} stroke="#000" />;
}

const Plus = (p: any) => (
  <path d={`M${p.cx - 6},${p.cy}H${p.cx + 6}M${p.cx},${p.cy - 6}V${p.cy + 6}`} stroke={BLUE} strokeWidth={1.6} fill="none" />
);
const Star = (p: any) => (
  <path
    d={`M${p.cx - 6},${p.cy}H${p.cx + 6}M${p.cx},${p.cy - 6}V${p.cy + 6}M${p.cx - 4.3},${p.cy - 4.3}L${p.cx + 4.3},${p.cy + 4.3}M${p.cx - 4.3},${p.cy + 4.3}L${p.cx + 4.3},${p.cy - 4.3}`}
    stroke={RED}
    strokeWidth={1.6}
    fill="none"
  />
);
const Ring = (p: any) => <circle cx={p.cx} cy={p.cy} r={5.5} stroke={GREEN} strokeWidth={1.3} fill="none" />;
const dotShape = (color: string, r: number) => (p: any) => <circle cx={p.cx} cy={p.cy} r={r} fill={color} />;

function Frame({ top, yDomain, yTicks, reversed = false, children }: any) {
  const common = {
    tickSize: 0,
    tickMargin: 0,
    tickLine: false,
    interval: 0 as const,
    axisLine: { stroke: '#000', strokeWidth: 1 },
  };
  return (
    <div style={{ position: 'absolute', left: 0, top }}>
      <ComposedChart width={1000} height={302} margin={{ top: 0, right: 0, bottom: 0, left: 0 }}>
        <XAxis type="number" dataKey="x" domain={X_DOMAIN} ticks={profileTicks} height={30} tick={BottomTick} {...common} />
        <XAxis xAxisId="top" orientation="top" type="number" dataKey="x" domain={X_DOMAIN} ticks={profileTicks} height={30} tick={TopTick} {...common} />
        <YAxis type="number" dataKey="y" domain={yDomain} ticks={yTicks} width={77} reversed={reversed} tick={LeftTick} {...common} />
        <YAxis yAxisId="right" orientation="right" type="number" dataKey="y" domain={yDomain} ticks={yTicks} width={13} reversed={reversed} tick={RightTick} {...common} />
        {children}
      </ComposedChart>
    </div>
  );
}

function depthLines(main: Pt[], thin: Pt[], tail: Pt[], color: string) {
  return [
    <Line key="m" data={toXY(main)} dataKey="y" stroke={color} strokeWidth={6} strokeLinejoin="round"
      dot={{ r: 3.8, fill: color, stroke: 'none' }} activeDot={false} isAnimationActive={false} />,
    <Line key="t" data={toXY(thin)} dataKey="y" stroke={color} strokeWidth={1.6}
      dot={{ r: 2.6, fill: color, stroke: 'none' }} activeDot={false} isAnimationActive={false} />,
    <Line key="e" data={toXY(tail)} dataKey="y" stroke={color} strokeWidth={7.5}
      dot={false} activeDot={false} isAnimationActive={false} />,
  ];
}

export default function App() {
  return (
    <div style={{ position: 'absolute', left: 0, top: 0, width: 985, height: 1328, overflow: 'hidden', background: '#fff' }}>
      <Frame top={10} yDomain={[0, 3255]} yTicks={[0, 1000, 2000, 3000]}>
        {revBands.map(([x1, x2, y1, y2], i) => (
          <ReferenceArea key={`g${i}`} x1={x1} x2={x2} y1={y1} y2={y2} fill={GREEN} fillOpacity={1} stroke="none" ifOverflow="visible" />
        ))}
        <Scatter data={toXY(revPts)} shape={Ring} isAnimationActive={false} />
        {badSBands.map(([x1, x2, y1, y2], i) => (
          <ReferenceArea key={`b${i}`} x1={x1} x2={x2} y1={y1} y2={y2} fill={BLUE} fillOpacity={1} stroke="none" ifOverflow="visible" />
        ))}
        <Scatter data={toXY(badTPts)} shape={Star} isAnimationActive={false} />
        <Scatter data={toXY(badSPts)} shape={Plus} isAnimationActive={false} />
      </Frame>

      <Frame top={348} yDomain={[0.3, 16.72]} yTicks={[5, 10, 15]}>
        <ReferenceLine y={4} stroke="#000" strokeWidth={1.3} strokeDasharray="10 6" />
        <Scatter data={toXY(diffvarT)} shape={dotShape(RED, 2.6)} isAnimationActive={false} />
        <Line
          data={toXY(diffvarC)}
          dataKey="y"
          stroke={BLUE}
          strokeWidth={1.5}
          dot={{ r: 2.6, fill: BLUE, stroke: 'none' }}
          activeDot={false}
          isAnimationActive={false}
        />
      </Frame>

      <Frame top={687} yDomain={[156.6, 313.4]} yTicks={[200, 250, 300]} reversed>
        {depthLines(pminPts, pminThin, pminTail, BLUE)}
        {depthLines(pmaxPts, pmaxThin, pmaxTail, RED)}
      </Frame>

      <Frame top={1024} yDomain={[0.236, 2.931]} yTicks={[0.5, 1, 1.5, 2, 2.5]}>
        <Scatter data={toXY(lagDown)} shape={dotShape(RED, 2.6)} isAnimationActive={false} />
        <Scatter data={toXY(lagUp)} shape={dotShape(BLUE, 2.6)} isAnimationActive={false} />
        <Line data={toXY(lagUpLine)} dataKey="y" stroke={BLUE} strokeWidth={1.1} dot={false} activeDot={false} isAnimationActive={false} />
      </Frame>

      <svg width={985} height={1328} style={{ position: 'absolute', left: 0, top: 0, pointerEvents: 'none' }}>
        <g {...txt} textAnchor="middle" dominantBaseline="central">
          <text x={532} y={17}>ITP9: bad (t) red, bad (s) blue, rev (t&amp;s) green</text>
          <text x={532} y={355}>diffvar: (t) red, (c) blue</text>
          <text x={532} y={694}>step region: pmin (b), pmax (r)</text>
          <text x={532} y={1032}>temperature lag: up blue, down red</text>
          <text transform="translate(18,837) rotate(-90)">depth (m)</text>
          <text transform="translate(25,1175) rotate(-90)">lag (s)</text>
        </g>
        <text x={77} y={369} fontSize={20} fontFamily={FONT} fill="#000">x 10</text>
        <text x={116} y={358} fontSize={14} fontFamily={FONT} fill="#000">−5</text>
      </svg>
    </div>
  );
}
